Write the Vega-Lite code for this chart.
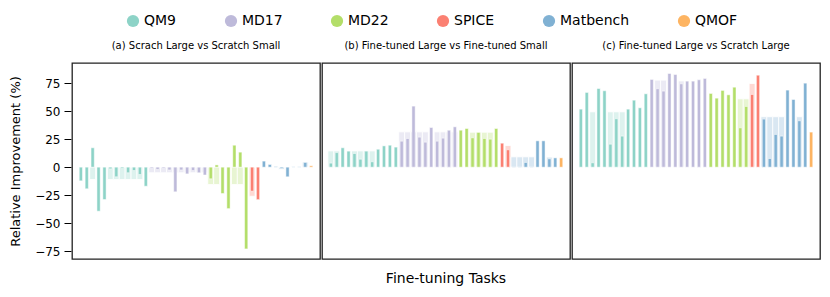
{
  "$schema": "https://vega.github.io/schema/vega-lite/v6.json",
  "padding": {"left": 9, "top": 14, "right": 11, "bottom": 5},
  "config": {
    "font": "DejaVu Sans",
    "view": {"stroke": "#222222", "strokeWidth": 1.3},
    "axis": {"labelColor": "#000", "titleColor": "#000"}
  },
  "data": {"values": [
    {"p":"(a) Scrach Large vs Scratch Small","i":1,"d":"QM9","v":-12.2},
    {"p":"(a) Scrach Large vs Scratch Small","i":2,"d":"QM9","v":-19.3},
    {"p":"(a) Scrach Large vs Scratch Small","i":3,"d":"QM9","v":17.3,"l":-11},
    {"p":"(a) Scrach Large vs Scratch Small","i":4,"d":"QM9","v":-39.3},
    {"p":"(a) Scrach Large vs Scratch Small","i":5,"d":"QM9","v":-28.9},
    {"p":"(a) Scrach Large vs Scratch Small","i":6,"d":"QM9","v":-1.5,"l":-11},
    {"p":"(a) Scrach Large vs Scratch Small","i":7,"d":"QM9","v":-8.6,"l":-11},
    {"p":"(a) Scrach Large vs Scratch Small","i":8,"d":"QM9","v":-1,"l":-11},
    {"p":"(a) Scrach Large vs Scratch Small","i":9,"d":"QM9","v":-5,"l":-11},
    {"p":"(a) Scrach Large vs Scratch Small","i":10,"d":"QM9","v":-3,"l":-11},
    {"p":"(a) Scrach Large vs Scratch Small","i":11,"d":"QM9","v":-6.5,"l":-11},
    {"p":"(a) Scrach Large vs Scratch Small","i":12,"d":"QM9","v":-17},
    {"p":"(a) Scrach Large vs Scratch Small","i":13,"d":"MD17","v":-1,"l":-5},
    {"p":"(a) Scrach Large vs Scratch Small","i":14,"d":"MD17","v":-2,"l":-5},
    {"p":"(a) Scrach Large vs Scratch Small","i":15,"d":"MD17","v":-1,"l":-5},
    {"p":"(a) Scrach Large vs Scratch Small","i":16,"d":"MD17","v":-2.5,"l":-5},
    {"p":"(a) Scrach Large vs Scratch Small","i":17,"d":"MD17","v":-22,"l":-5},
    {"p":"(a) Scrach Large vs Scratch Small","i":18,"d":"MD17","v":-2.5,"l":-5},
    {"p":"(a) Scrach Large vs Scratch Small","i":19,"d":"MD17","v":-6,"l":-5},
    {"p":"(a) Scrach Large vs Scratch Small","i":20,"d":"MD17","v":-3,"l":-5},
    {"p":"(a) Scrach Large vs Scratch Small","i":21,"d":"MD17","v":-5,"l":-5},
    {"p":"(a) Scrach Large vs Scratch Small","i":22,"d":"MD17","v":-7,"l":-5},
    {"p":"(a) Scrach Large vs Scratch Small","i":23,"d":"MD22","v":-10.4,"l":-15.5},
    {"p":"(a) Scrach Large vs Scratch Small","i":24,"d":"MD22","v":2,"l":-15.5},
    {"p":"(a) Scrach Large vs Scratch Small","i":25,"d":"MD22","v":-23.5},
    {"p":"(a) Scrach Large vs Scratch Small","i":26,"d":"MD22","v":-37},
    {"p":"(a) Scrach Large vs Scratch Small","i":27,"d":"MD22","v":19.6,"l":-15.5},
    {"p":"(a) Scrach Large vs Scratch Small","i":28,"d":"MD22","v":13.4,"l":-15.5},
    {"p":"(a) Scrach Large vs Scratch Small","i":29,"d":"MD22","v":-73},
    {"p":"(a) Scrach Large vs Scratch Small","i":30,"d":"SPICE","v":-21.4,"l":-26},
    {"p":"(a) Scrach Large vs Scratch Small","i":31,"d":"SPICE","v":-29},
    {"p":"(a) Scrach Large vs Scratch Small","i":32,"d":"Matbench","v":5.4},
    {"p":"(a) Scrach Large vs Scratch Small","i":33,"d":"Matbench","v":2.4},
    {"p":"(a) Scrach Large vs Scratch Small","i":34,"d":"Matbench","v":0.5},
    {"p":"(a) Scrach Large vs Scratch Small","i":35,"d":"Matbench","v":-1,"l":-2},
    {"p":"(a) Scrach Large vs Scratch Small","i":36,"d":"Matbench","v":-8.6},
    {"p":"(a) Scrach Large vs Scratch Small","i":37,"d":"Matbench","v":0.3},
    {"p":"(a) Scrach Large vs Scratch Small","i":38,"d":"Matbench","v":0.3},
    {"p":"(a) Scrach Large vs Scratch Small","i":39,"d":"Matbench","v":4.2,"l":4.5},
    {"p":"(a) Scrach Large vs Scratch Small","i":40,"d":"QMOF","v":1.2},

    {"p":"(b) Fine-tuned Large vs Fine-tuned Small","i":1,"d":"QM9","v":3.6,"l":14.5},
    {"p":"(b) Fine-tuned Large vs Fine-tuned Small","i":2,"d":"QM9","v":13,"l":14.5},
    {"p":"(b) Fine-tuned Large vs Fine-tuned Small","i":3,"d":"QM9","v":17.3},
    {"p":"(b) Fine-tuned Large vs Fine-tuned Small","i":4,"d":"QM9","v":14.3},
    {"p":"(b) Fine-tuned Large vs Fine-tuned Small","i":5,"d":"QM9","v":12.2,"l":14.5},
    {"p":"(b) Fine-tuned Large vs Fine-tuned Small","i":6,"d":"QM9","v":7.1,"l":14.5},
    {"p":"(b) Fine-tuned Large vs Fine-tuned Small","i":7,"d":"QM9","v":14.3,"l":14.5},
    {"p":"(b) Fine-tuned Large vs Fine-tuned Small","i":8,"d":"QM9","v":4.8,"l":14.5},
    {"p":"(b) Fine-tuned Large vs Fine-tuned Small","i":9,"d":"QM9","v":16},
    {"p":"(b) Fine-tuned Large vs Fine-tuned Small","i":10,"d":"QM9","v":19},
    {"p":"(b) Fine-tuned Large vs Fine-tuned Small","i":11,"d":"QM9","v":19.6},
    {"p":"(b) Fine-tuned Large vs Fine-tuned Small","i":12,"d":"QM9","v":17.9},
    {"p":"(b) Fine-tuned Large vs Fine-tuned Small","i":13,"d":"MD17","v":23.2,"l":31.5},
    {"p":"(b) Fine-tuned Large vs Fine-tuned Small","i":14,"d":"MD17","v":25.6,"l":31.5},
    {"p":"(b) Fine-tuned Large vs Fine-tuned Small","i":15,"d":"MD17","v":54.5,"l":31.5},
    {"p":"(b) Fine-tuned Large vs Fine-tuned Small","i":16,"d":"MD17","v":26.8,"l":31.5},
    {"p":"(b) Fine-tuned Large vs Fine-tuned Small","i":17,"d":"MD17","v":22.3,"l":31.5},
    {"p":"(b) Fine-tuned Large vs Fine-tuned Small","i":18,"d":"MD17","v":35.4},
    {"p":"(b) Fine-tuned Large vs Fine-tuned Small","i":19,"d":"MD17","v":23.2,"l":31.5},
    {"p":"(b) Fine-tuned Large vs Fine-tuned Small","i":20,"d":"MD17","v":25.9,"l":31.5},
    {"p":"(b) Fine-tuned Large vs Fine-tuned Small","i":21,"d":"MD17","v":33,"l":31.5},
    {"p":"(b) Fine-tuned Large vs Fine-tuned Small","i":22,"d":"MD17","v":36,"l":31.5},
    {"p":"(b) Fine-tuned Large vs Fine-tuned Small","i":23,"d":"MD22","v":33},
    {"p":"(b) Fine-tuned Large vs Fine-tuned Small","i":24,"d":"MD22","v":34.5},
    {"p":"(b) Fine-tuned Large vs Fine-tuned Small","i":25,"d":"MD22","v":26.2,"l":31.2},
    {"p":"(b) Fine-tuned Large vs Fine-tuned Small","i":26,"d":"MD22","v":31,"l":31.2},
    {"p":"(b) Fine-tuned Large vs Fine-tuned Small","i":27,"d":"MD22","v":25.6,"l":31.2},
    {"p":"(b) Fine-tuned Large vs Fine-tuned Small","i":28,"d":"MD22","v":25,"l":31.2},
    {"p":"(b) Fine-tuned Large vs Fine-tuned Small","i":29,"d":"MD22","v":34.5},
    {"p":"(b) Fine-tuned Large vs Fine-tuned Small","i":30,"d":"SPICE","v":21.4},
    {"p":"(b) Fine-tuned Large vs Fine-tuned Small","i":31,"d":"SPICE","v":15.5,"l":19.3},
    {"p":"(b) Fine-tuned Large vs Fine-tuned Small","i":32,"d":"Matbench","v":0.5,"l":9.2},
    {"p":"(b) Fine-tuned Large vs Fine-tuned Small","i":33,"d":"Matbench","v":0.5,"l":9.2},
    {"p":"(b) Fine-tuned Large vs Fine-tuned Small","i":34,"d":"Matbench","v":4.2,"l":9.2},
    {"p":"(b) Fine-tuned Large vs Fine-tuned Small","i":35,"d":"Matbench","v":0.5,"l":9.2},
    {"p":"(b) Fine-tuned Large vs Fine-tuned Small","i":36,"d":"Matbench","v":23.5},
    {"p":"(b) Fine-tuned Large vs Fine-tuned Small","i":37,"d":"Matbench","v":23.5},
    {"p":"(b) Fine-tuned Large vs Fine-tuned Small","i":38,"d":"Matbench","v":7.4,"l":9},
    {"p":"(b) Fine-tuned Large vs Fine-tuned Small","i":39,"d":"Matbench","v":8.3},
    {"p":"(b) Fine-tuned Large vs Fine-tuned Small","i":40,"d":"QMOF","v":8.3},

    {"p":"(c) Fine-tuned Large vs Scratch Large","i":1,"d":"QM9","v":51.8},
    {"p":"(c) Fine-tuned Large vs Scratch Large","i":2,"d":"QM9","v":66.7},
    {"p":"(c) Fine-tuned Large vs Scratch Large","i":3,"d":"QM9","v":3.9,"l":49.4},
    {"p":"(c) Fine-tuned Large vs Scratch Large","i":4,"d":"QM9","v":70.2},
    {"p":"(c) Fine-tuned Large vs Scratch Large","i":5,"d":"QM9","v":68.2},
    {"p":"(c) Fine-tuned Large vs Scratch Large","i":6,"d":"QM9","v":20.5,"l":49.4},
    {"p":"(c) Fine-tuned Large vs Scratch Large","i":7,"d":"QM9","v":43.2,"l":49.4},
    {"p":"(c) Fine-tuned Large vs Scratch Large","i":8,"d":"QM9","v":27.7,"l":49.4},
    {"p":"(c) Fine-tuned Large vs Scratch Large","i":9,"d":"QM9","v":51.8},
    {"p":"(c) Fine-tuned Large vs Scratch Large","i":10,"d":"QM9","v":59.8},
    {"p":"(c) Fine-tuned Large vs Scratch Large","i":11,"d":"QM9","v":53},
    {"p":"(c) Fine-tuned Large vs Scratch Large","i":12,"d":"QM9","v":65.5},
    {"p":"(c) Fine-tuned Large vs Scratch Large","i":13,"d":"MD17","v":78.3},
    {"p":"(c) Fine-tuned Large vs Scratch Large","i":14,"d":"MD17","v":70,"l":77.7},
    {"p":"(c) Fine-tuned Large vs Scratch Large","i":15,"d":"MD17","v":67.9,"l":77.7},
    {"p":"(c) Fine-tuned Large vs Scratch Large","i":16,"d":"MD17","v":83.6},
    {"p":"(c) Fine-tuned Large vs Scratch Large","i":17,"d":"MD17","v":82.7},
    {"p":"(c) Fine-tuned Large vs Scratch Large","i":18,"d":"MD17","v":74.4,"l":77},
    {"p":"(c) Fine-tuned Large vs Scratch Large","i":19,"d":"MD17","v":76.8},
    {"p":"(c) Fine-tuned Large vs Scratch Large","i":20,"d":"MD17","v":76.8},
    {"p":"(c) Fine-tuned Large vs Scratch Large","i":21,"d":"MD17","v":78},
    {"p":"(c) Fine-tuned Large vs Scratch Large","i":22,"d":"MD17","v":79.2},
    {"p":"(c) Fine-tuned Large vs Scratch Large","i":23,"d":"MD22","v":65.8},
    {"p":"(c) Fine-tuned Large vs Scratch Large","i":24,"d":"MD22","v":61.6},
    {"p":"(c) Fine-tuned Large vs Scratch Large","i":25,"d":"MD22","v":68.5},
    {"p":"(c) Fine-tuned Large vs Scratch Large","i":26,"d":"MD22","v":64.6},
    {"p":"(c) Fine-tuned Large vs Scratch Large","i":27,"d":"MD22","v":71.4},
    {"p":"(c) Fine-tuned Large vs Scratch Large","i":28,"d":"MD22","v":35.1,"l":61},
    {"p":"(c) Fine-tuned Large vs Scratch Large","i":29,"d":"MD22","v":54.2,"l":61},
    {"p":"(c) Fine-tuned Large vs Scratch Large","i":30,"d":"SPICE","v":64.9,"l":74.7},
    {"p":"(c) Fine-tuned Large vs Scratch Large","i":31,"d":"SPICE","v":82.1},
    {"p":"(c) Fine-tuned Large vs Scratch Large","i":32,"d":"Matbench","v":42.9,"l":45},
    {"p":"(c) Fine-tuned Large vs Scratch Large","i":33,"d":"Matbench","v":7.7,"l":45},
    {"p":"(c) Fine-tuned Large vs Scratch Large","i":34,"d":"Matbench","v":29.2,"l":45},
    {"p":"(c) Fine-tuned Large vs Scratch Large","i":35,"d":"Matbench","v":27.7,"l":45},
    {"p":"(c) Fine-tuned Large vs Scratch Large","i":36,"d":"Matbench","v":68.8},
    {"p":"(c) Fine-tuned Large vs Scratch Large","i":37,"d":"Matbench","v":60.4},
    {"p":"(c) Fine-tuned Large vs Scratch Large","i":38,"d":"Matbench","v":41.4,"l":45},
    {"p":"(c) Fine-tuned Large vs Scratch Large","i":39,"d":"Matbench","v":75},
    {"p":"(c) Fine-tuned Large vs Scratch Large","i":40,"d":"QMOF","v":31.3}
  ]},
  "facet": {
    "column": {
      "field": "p",
      "type": "nominal",
      "title": "Fine-tuning Tasks",
      "header": {
        "labelOrient": "top",
        "titleOrient": "bottom",
        "labelFontSize": 10,
        "labelColor": "#000",
        "labelPadding": 11,
        "titleFontSize": 14,
        "titleFontWeight": "normal",
        "titleColor": "#000",
        "titlePadding": 2
      }
    }
  },
  "spacing": 0,
  "spec": {
    "width": 248,
    "height": 196,
    "encoding": {
      "x": {"field": "i", "type": "ordinal", "axis": null, "scale": {"paddingInner": 0, "paddingOuter": 2}},
      "color": {
        "field": "d",
        "type": "nominal",
        "scale": {
          "domain": ["QM9", "MD17", "MD22", "SPICE", "Matbench", "QMOF"],
          "range": ["#8dd3c7", "#bebada", "#b3de69", "#fb8072", "#80b1d3", "#fdb462"]
        },
        "legend": {
          "title": null,
          "orient": "none",
          "legendX": 54,
          "legendY": -49,
          "direction": "horizontal",
          "symbolType": "circle",
          "symbolSize": 150,
          "symbolOpacity": 1,
          "symbolStrokeWidth": 0,
          "labelFontSize": 14,
          "labelColor": "#000",
          "labelOffset": 4,
          "columnPadding": 47
        }
      }
    },
    "layer": [
      {
        "mark": {"type": "bar", "width": {"band": 1}, "fillOpacity": 0.3, "stroke": "white", "strokeWidth": 0.8},
        "encoding": {
          "y": {"field": "l", "type": "quantitative", "scale": {"domain": [-82, 93], "nice": false},
            "axis": {"values": [-75, -50, -25, 0, 25, 50, 75], "tickCount": 10, "labelOverlap": false, "labelFlush": false, "title": "Relative Improvement (%)", "grid": false, "domain": false, "tickColor": "#000", "tickSize": 7, "labelFontSize": 12, "labelPadding": 4, "titleFontSize": 13, "titleFontWeight": "normal", "titlePadding": 12}}
        }
      },
      {
        "mark": {"type": "bar", "width": {"band": 0.55}, "stroke": "white", "strokeWidth": 0.5},
        "encoding": {
          "y": {"field": "v", "type": "quantitative", "scale": {"domain": [-82, 93], "nice": false},
            "axis": {"values": [-75, -50, -25, 0, 25, 50, 75], "tickCount": 10, "labelOverlap": false, "labelFlush": false, "title": "Relative Improvement (%)", "grid": false, "domain": false, "tickColor": "#000", "tickSize": 7, "labelFontSize": 12, "labelPadding": 4, "titleFontSize": 13, "titleFontWeight": "normal", "titlePadding": 12}}
        }
      },
      {
        "mark": {"type": "rule", "color": "#808080", "strokeWidth": 1},
        "encoding": {"y": {"datum": 0}}
      }
    ]
  }
}
